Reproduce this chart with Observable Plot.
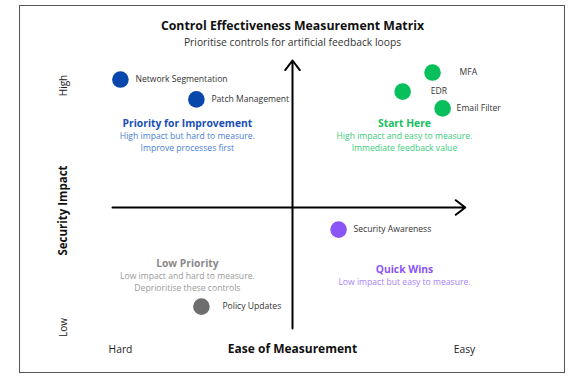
<!DOCTYPE html>
<html>
<head>
<meta charset="utf-8">
<script src="https://cdn.jsdelivr.net/npm/d3@7"></script>
<script src="https://cdn.jsdelivr.net/npm/@observablehq/plot@0.6"></script>
<style>
  html, body { margin: 0; padding: 0; background: #fff; }
  #wrap { position: relative; width: 575px; height: 391px; }
  #border { position: absolute; left: 19px; top: 5px; width: 544px; height: 366px; border: 1.5px solid #555; }
  #chart { position: absolute; left: 0; top: 0; }
  svg { font-family: "Open Sans", sans-serif; }
</style>
</head>
<body>
<div id="wrap"><div id="border"></div><div id="chart"></div></div>
<script>
// Controls: ease of measurement (0 = hard, 10 = easy), security impact (0 = low, 10 = high)
const controls = ["Network Segmentation", "Patch Management", "MFA", "EDR", "Email Filter", "Security Awareness", "Policy Updates"];
const ease     = [0.22, 2.33, 8.89, 8.06, 9.17, 6.28, 2.47];
const impact   = [9.57, 8.86, 9.82, 9.14, 8.54, 4.21, 1.46];
const group    = ["improve", "improve", "start", "start", "start", "quick", "low"];

// Quadrant annotations
const quadKeys   = ["improve", "start", "low", "quick"];
const quadTitles = ["Priority for Improvement", "Start Here", "Low Priority", "Quick Wins"];
const quadTexts  = [
  "High impact but hard to measure.\nImprove processes first",
  "High impact and easy to measure.\nImmediate feedback value",
  "Low impact and hard to measure.\nDeprioritise these controls",
  "Low impact but easy to measure."
];
const quadEase   = [2.08, 8.11, 2.08, 8.11];
const quadImpact = [8.0, 8.0, 3.0, 2.79];

// Axis text
const titleText = "Control Effectiveness Measurement Matrix";
const subtitleText = "Prioritise controls for artificial feedback loops";
const xLabel = "Ease of Measurement", xLow = "Hard", xHigh = "Easy";
const yLabel = "Security Impact", yLow = "Low", yHigh = "High";

// Styles
const dotColor   = {improve: "#0a47ad", start: "#07c05c", quick: "#8b55f5", low: "#6e6e6e"};
const titleColor = {improve: "#1a4fb5", start: "#18bf62", quick: "#8b55f5", low: "#8a8a8a"};
const textColor  = {improve: "#4a7fd6", start: "#3ccc7c", quick: "#a683f7", low: "#9a9a9a"};
const labelDx    = [15, 15, 27, 28, 14, 15, 21];

const points = controls.map((c, i) => ({name: c, ease: ease[i], impact: impact[i], group: group[i], dx: labelDx[i]}));
const quads = quadKeys.map((k, i) => ({key: k, title: quadTitles[i], text: quadTexts[i], ease: quadEase[i], impact: quadImpact[i]}));
const axesArrows = [
  {x1: 5, y1: 0.68, x2: 5, y2: 10.25},
  {x1: 0, y1: 5, x2: 9.8, y2: 5}
];

const labelMarks = points.map(p => Plot.text([p], {
  x: "ease", y: "impact", text: "name", dx: p.dx, textAnchor: "start",
  fontSize: 8.6, fill: "#333"
}));

const chart = Plot.plot({
  width: 575, height: 391,
  marginLeft: 112, marginRight: 103, marginTop: 67, marginBottom: 44,
  x: {domain: [0, 10], axis: null},
  y: {domain: [0, 10], axis: null},
  marks: [
    Plot.arrow(axesArrows, {x1: "x1", y1: "y1", x2: "x2", y2: "y2", stroke: "#000", strokeWidth: 2, headLength: 9, headAngle: 75, clip: false}),
    Plot.dot(points, {x: "ease", y: "impact", r: 8.3, fill: d => dotColor[d.group], stroke: "none"}),
    ...labelMarks,
    Plot.text(quads, {x: "ease", y: "impact", text: "title", fontWeight: "bold", fontSize: 10.3, fill: d => titleColor[d.key]}),
    Plot.text(quads, {x: "ease", y: "impact", text: "text", fontSize: 8.6, lineHeight: 1.4, lineAnchor: "top", dy: 7, fill: d => textColor[d.key]}),
    Plot.text([titleText], {frameAnchor: "top", dy: -46, fontSize: 12.3, fontWeight: "bold", fill: "#111"}),
    Plot.text([subtitleText], {frameAnchor: "top", dy: -29, fontSize: 10.3, fill: "#333"}),
    Plot.text([xLabel], {frameAnchor: "bottom", dy: 2, lineAnchor: "middle", fontSize: 12, fontWeight: "bold", fill: "#111"}),
    Plot.text([xLow], {frameAnchor: "bottom-left", dx: 8, dy: 2, lineAnchor: "middle", textAnchor: "middle", fontSize: 10.3, fill: "#222"}),
    Plot.text([xHigh], {frameAnchor: "bottom-right", dx: -8, dy: 2, lineAnchor: "middle", textAnchor: "middle", fontSize: 10.3, fill: "#222"}),
    Plot.text([yLabel], {frameAnchor: "left", dx: -49, dy: 3, rotate: -90, textAnchor: "middle", fontSize: 11.5, fontWeight: "bold", fill: "#111"}),
    Plot.text([yHigh], {frameAnchor: "top-left", dx: -49, dy: 18, rotate: -90, textAnchor: "middle", lineAnchor: "middle", fontSize: 10, fill: "#222"}),
    Plot.text([yLow], {frameAnchor: "bottom-left", dx: -49, dy: -20, rotate: -90, textAnchor: "middle", lineAnchor: "middle", fontSize: 10, fill: "#222"})
  ]
});
document.getElementById("chart").appendChild(chart);
</script>
</body>
</html>
